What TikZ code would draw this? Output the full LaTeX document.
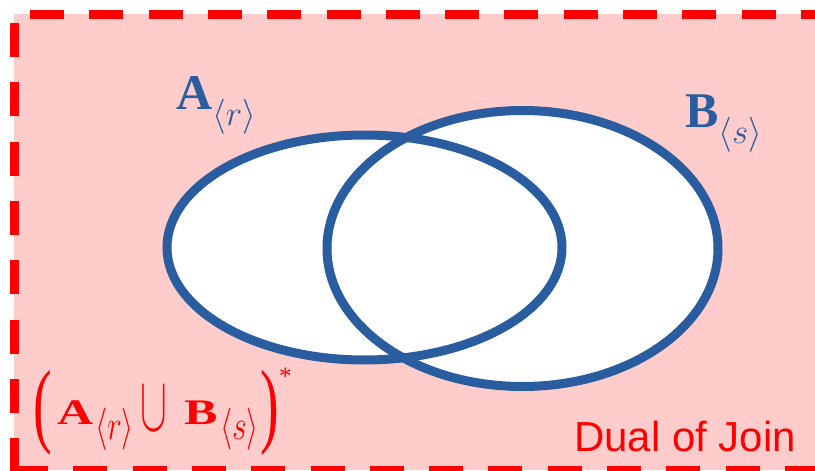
\RequirePackage{fix-cm}
\documentclass[tikz,border=0pt]{standalone}
\usepackage{fontspec}
\usepackage{graphicx}
\usepackage{tikz}
\usetikzlibrary{positioning}
\newfontfamily\tnr{Liberation Serif}
\newfontfamily\arial{Liberation Sans}
\definecolor{bladeblue}{RGB}{42,93,160}
\definecolor{dualpink}{RGB}{255,204,204}
% bold serif letter, grade subscript, tall paren
\newcommand{\blade}[1]{{\fontsize{50}{50}\selectfont\tnr\bfseries #1}}
\newcommand{\grade}[2]{\raisebox{-#1}{\scalebox{1}[1.35]{\fontsize{31}{31}\selectfont$\langle #2\rangle$}}}
\newcommand{\tallparen}[1]{\raisebox{-11.4pt}{\scalebox{1}[1.68]{\fontsize{56}{56}\selectfont\tnr #1}}}
\tikzset{
  ring/.style={line width=9pt,draw=bladeblue},
  frameline/.style={line width=9pt,draw=red,dash pattern=on 34pt off 25.3pt},
  lbl/.style={anchor=base west,inner sep=0pt}
}
\begin{document}
\begin{tikzpicture}[x=1pt,y=-1pt]
    \useasboundingbox (0,0) rectangle (815,471);
    \clip (0,0) rectangle (815,471);

    % Background of the dual
    \fill[dualpink] (14,14) rectangle (830,470);
    \draw[frameline,dash phase=43.3pt] (14,14) -- (830,14);
    \draw[frameline,dash phase=50.3pt] (14,14) -- (14,480);
    \draw[frameline] (14,470) -- (830,470);

    % The two blades
    \coordinate (cA) at (364.5,247.5);
    \coordinate (cB) at (522.5,248.5);
    \fill[white] (cA) ellipse [x radius=197.5pt,y radius=112.5pt]
                 (cB) ellipse [x radius=195.5pt,y radius=138pt];
    \draw[ring] (cA) ellipse [x radius=197.5pt,y radius=112.5pt];
    \draw[ring] (cB) ellipse [x radius=195.5pt,y radius=138pt];

    % Labels
    \node[lbl,text=bladeblue] (labA) at (176,109)
        {\blade{A}\raisebox{-16pt}{\fontsize{35}{35}\selectfont$\langle r\rangle$}};
    \node[lbl,text=bladeblue] (labB) at (685,127)
        {\blade{B}\raisebox{-16pt}{\fontsize{35}{35}\selectfont$\langle s\rangle$}};

    % Dual of the join
    \node[lbl,text=red] (dual) at (33,424) {%
        \makebox[24pt][l]{\tallparen{(}}%
        \makebox[38pt][l]{\scalebox{1}[0.72]{\blade{A}}}%
        \makebox[45pt][l]{\grade{15.4pt}{r}}%
        \makebox[44pt][l]{\raisebox{-6.3pt}{\scalebox{1}[1.95]{\fontsize{40}{40}\selectfont$\cup$}}}%
        \makebox[36pt][l]{\scalebox{1}[0.72]{\blade{B}}}%
        \makebox[40pt][l]{\grade{15.4pt}{s}}%
        \makebox[19pt][l]{\tallparen{)}}%
        \raisebox{40pt}{\fontsize{25}{25}\selectfont\tnr *}};
    \node[lbl,text=red,font=\arial\fontsize{42}{42}\selectfont] (joinname) at (574,451.7) {Dual of Join};
\end{tikzpicture}
\end{document}
